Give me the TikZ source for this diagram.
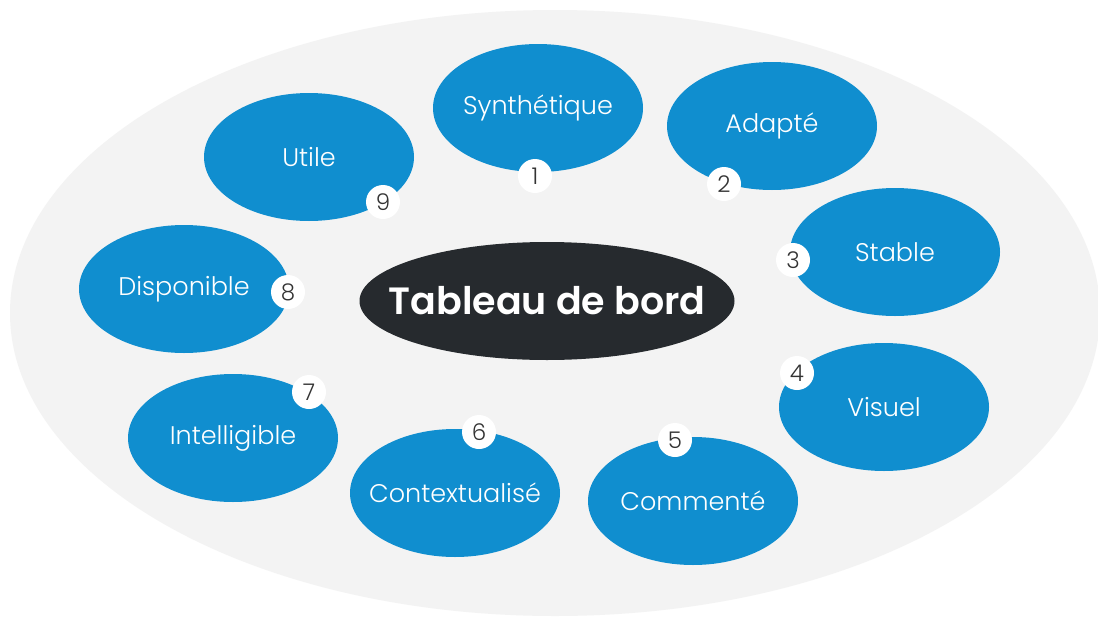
\documentclass[tikz,border=0pt]{standalone}
\usepackage{fontspec}
\setmainfont{Poppins}
\newfontfamily\thinfont{Poppins Light}
\newfontfamily\boldfont{Poppins SemiBold}
\usetikzlibrary{shapes.geometric}
\definecolor{bgray}{HTML}{F3F3F3}
\definecolor{bblue}{HTML}{108ECF}
\definecolor{dark}{HTML}{262A2E}
\definecolor{digit}{HTML}{333333}
\tikzset{
  quality/.style={ellipse, fill=bblue, minimum width=210pt, minimum height=128pt, inner xsep=-30pt, inner ysep=0pt,
    text=white, font=\thinfont\fontsize{25.5}{28}\selectfont},
  numdot/.style={circle, fill=white, minimum size=34pt, inner sep=0pt,
    text=digit, font=\thinfont\fontsize{23}{26}\selectfont},
  hub/.style={ellipse, fill=dark, minimum width=375pt, minimum height=118pt, inner sep=0pt},
  hubtext/.style={text=white, inner sep=0pt, font=\boldfont\fontsize{38}{42}\selectfont}
}
\begin{document}
\begin{tikzpicture}[x=1pt,y=-1pt]
\useasboundingbox (0,0) rectangle (1098,616);
\fill[white] (0,0) rectangle (1098,616);
\node[ellipse, fill=bgray, minimum width=1090pt, minimum height=606pt, inner sep=0pt] (bg) at (555,313) {};
\node[hub] (c) at (547,301) {};
\node[hubtext] (ct) at (c) {Tableau de bord};
\node[quality] (e1) at (538,108) {Synthétique};
\node[quality] (e2) at (772,126) {Adapté};
\node[quality] (e3) at (895,252) {Stable};
\node[quality] (e4) at (884,407) {Visuel};
\node[quality] (e5) at (693,501) {Commenté};
\node[quality] (e6) at (455,493) {Contextualisé};
\node[quality] (e7) at (233,438) {Intelligible};
\node[quality] (e8) at (184,289) {Disponible};
\node[quality] (e9) at (309,157) {Utile};
\node[numdot] (n1) at (535,176) {1};
\node[numdot] (n2) at (724,184) {2};
\node[numdot] (n3) at (793,260) {3};
\node[numdot] (n4) at (797,373) {4};
\node[numdot] (n5) at (675,440) {5};
\node[numdot] (n6) at (479,432) {6};
\node[numdot] (n7) at (309,392) {7};
\node[numdot] (n8) at (288,292) {8};
\node[numdot] (n9) at (383,202) {9};
\end{tikzpicture}
\end{document}
